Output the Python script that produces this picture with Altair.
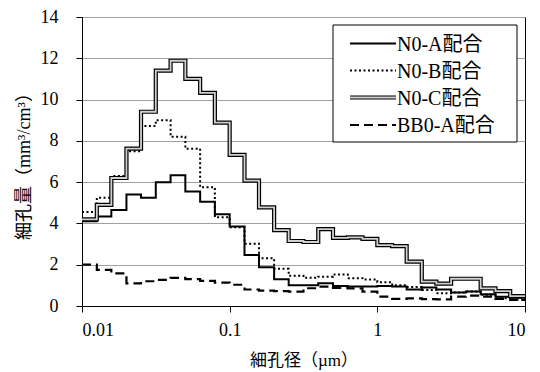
import altair as alt
import pandas as pd

# pore diameter bin edges (µm)
diam = [0.01, 0.0126, 0.0158, 0.02, 0.0251, 0.0316, 0.0398, 0.0501, 0.0631, 0.0794,
        0.1, 0.126, 0.158, 0.2, 0.251, 0.316, 0.398, 0.501, 0.631, 0.794,
        1.0, 1.26, 1.58, 2.0, 2.51, 3.16, 3.98, 5.01, 6.31, 7.94, 10.0]

names = ["N0-A配合", "N0-B配合", "N0-C配合", "BB0-A配合"]

n0a = [4.1, 4.33, 4.65, 5.4, 5.25, 6.0, 6.33, 5.55, 5.05, 4.45,
       3.85, 2.47, 1.88, 1.3, 1.0, 1.0, 1.1, 0.97, 0.95, 0.95,
       0.97, 0.94, 0.8, 0.9, 0.8, 0.66, 0.7, 0.57, 0.45, 0.4]
n0b = [4.55, 5.25, 6.3, 7.5, 8.72, 9.0, 8.2, 7.62, 5.75, 4.3,
       3.82, 3.02, 2.31, 1.8, 1.47, 1.37, 1.42, 1.52, 1.34, 1.28,
       1.15, 1.0, 0.92, 0.78, 0.62, 0.66, 0.7, 0.55, 0.38, 0.3]
n0c = [4.2, 4.9, 6.2, 7.62, 9.41, 11.4, 11.88, 11.0, 10.32, 8.88,
       7.32, 6.07, 4.78, 3.68, 3.15, 3.1, 3.72, 3.3, 3.32, 3.25,
       2.95, 2.9, 2.15, 1.18, 1.08, 1.32, 1.32, 0.85, 0.72, 0.48]
bb0a = [2.0, 1.75, 1.58, 1.1, 1.2, 1.27, 1.36, 1.3, 1.22, 1.13,
        1.03, 0.8, 0.74, 0.72, 0.7, 0.86, 0.94, 0.88, 0.85, 0.7,
        0.45, 0.35, 0.37, 0.33, 0.32, 0.45, 0.5, 0.45, 0.35, 0.3]

x_ticks = [0.01, 0.1, 1, 10]
y_ticks = [0, 2, 4, 6, 8, 10, 12, 14]

series = list(zip(names, [n0a, n0b, n0c, bb0a]))
rows = []
for name, vals in series:
    for i, d in enumerate(diam):
        rows.append({"d": d, "v": vals[min(i, len(vals) - 1)], "s": name})
df = pd.DataFrame(rows)

LAT = "Liberation Serif, Times New Roman, serif"
SERIF = "Liberation Serif, Noto Sans CJK JP"
W, H = 443, 289

x = alt.X("d:Q",
          scale=alt.Scale(type="log", domain=[0.01, 10], nice=False),
          axis=alt.Axis(values=x_ticks, labelExpr="'' + datum.value", grid=False,
                        title="細孔径（µm）", titleX=W / 2, titleY=54,
                        titleBaseline="middle", titleAlign="center",
                        tickSize=6, labelPadding=9, labelFontSize=18,
                        titleFontSize=17, titleFontWeight="normal",
                        labelFont=LAT, titleFont=SERIF,
                        domainColor="black", tickColor="black",
                        labelColor="black", titleColor="black"))
y = alt.Y("v:Q",
          scale=alt.Scale(domain=[0, 14], nice=False),
          axis=alt.Axis(values=y_ticks, grid=True, gridColor="#a0a0a0",
                        gridWidth=1, title="細孔量（mm³/cm³）",
                        titleX=-58, titleY=H / 2, titleAngle=270,
                        titleAlign="center", titleBaseline="middle",
                        tickSize=6, labelPadding=18, labelFontSize=18,
                        titleFontSize=18, titleFontWeight="normal",
                        labelFont=LAT, titleFont=SERIF,
                        domainColor="black", tickColor="black",
                        labelColor="black", titleColor="black"))

base = alt.Chart(df).encode(x=x, y=y)

def sel(n):
    return base.transform_filter(alt.datum.s == n)

la = sel(names[0]).mark_line(interpolate="step-after", color="black", strokeWidth=2)
lb = sel(names[1]).mark_line(interpolate="step-after", color="black", strokeWidth=2,
                             strokeDash=[2, 2.5])
lc1 = sel(names[2]).mark_line(interpolate="step-after", color="black", strokeWidth=4.2)
lc2 = sel(names[2]).mark_line(interpolate="step-after", color="#d0d0d0", strokeWidth=1.8)
ld = sel(names[3]).mark_line(interpolate="step-after", color="black", strokeWidth=2.2,
                             strokeDash=[9, 5])

# legend
leg_df = pd.DataFrame({"s": names})
box = alt.Chart(leg_df.head(1)).mark_rect(fill="white", stroke="black", strokeWidth=1).encode(
    x=alt.value(251), x2=alt.value(435), y=alt.value(8), y2=alt.value(125))
row_y = [26.5, 53.5, 80.5, 108]
legend_layers = [box]
styles = [dict(strokeWidth=2), dict(strokeWidth=2, strokeDash=[2, 2.5]),
          dict(strokeWidth=4.2), dict(strokeWidth=2.2, strokeDash=[9, 5])]
for i, n in enumerate(names):
    one = alt.Chart(leg_df.iloc[[i]])
    legend_layers.append(one.mark_rule(color="black", **styles[i]).encode(
        x=alt.value(268), x2=alt.value(314), y=alt.value(row_y[i])))
    if i == 2:
        legend_layers.append(one.mark_rule(color="#d0d0d0", strokeWidth=1.8).encode(
            x=alt.value(268), x2=alt.value(314), y=alt.value(row_y[i])))
    legend_layers.append(one.mark_text(align="left", baseline="middle", font=SERIF,
                                       fontSize=20, color="black").encode(
        x=alt.value(315), y=alt.value(row_y[i] + 1), text="s:N"))

chart = alt.layer(la, lb, lc1, lc2, ld, *legend_layers).properties(
    width=W, height=H,
    autosize=alt.AutoSizeParams(type="none"),
    padding={"left": 82, "top": 17, "right": 15, "bottom": 66},
    background="white",
).configure_view(stroke="black", strokeWidth=1)

chart.save("out.html", embed_options={"renderer": "svg", "actions": False})
